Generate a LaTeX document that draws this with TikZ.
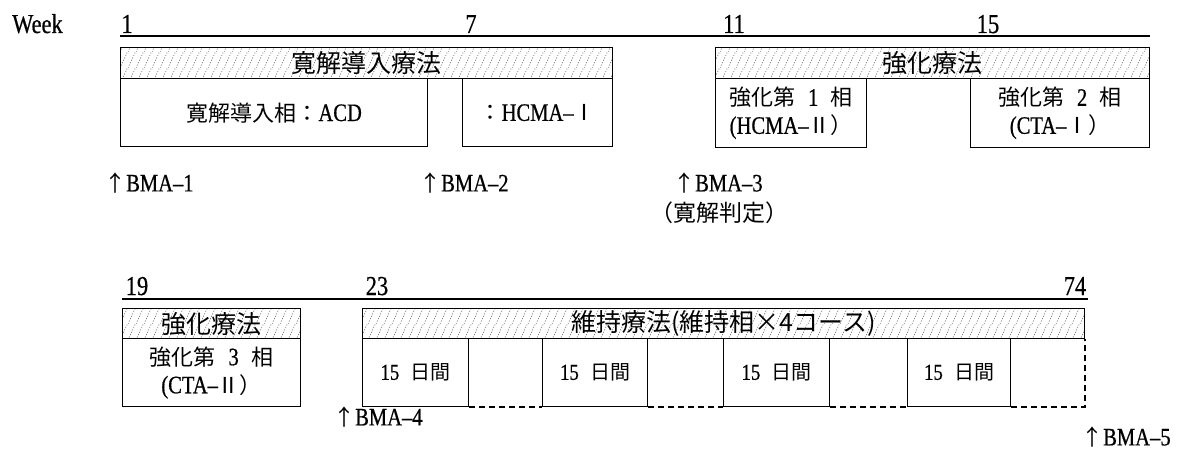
\documentclass[tikz,border=0pt]{standalone}
\usepackage{fontspec}
\setmainfont{Liberation Serif}[Scale=1.14, FakeStretch=0.82, FakeBold=0.6]
\newfontfamily\cjk{Noto Sans CJK JP}
\usetikzlibrary{patterns.meta}
\tikzdeclarepattern{
  name=dhatch, type=uncolored,
  bottom left={(0pt,0pt)}, top right={(8pt,16pt)},
  tile size={(8pt,16pt)},
  code={\draw[line width=0.7pt, dash pattern=on 1.2pt off 1.6pt] (0pt,0pt) -- (8pt,16pt);}
}
\tikzset{
  band/.style={draw, line width=1.3pt, pattern=dhatch, pattern color=black!55, inner sep=0pt, anchor=north west, font=\fontsize{25}{28}\selectfont\cjk},
  phase/.style={draw, line width=1.3pt, inner sep=0pt, anchor=north west, align=center, font=\fontsize{22}{28}\selectfont},
  day/.style={phase, font=\fontsize{20}{24}\selectfont},
  lbl/.style={font=\fontsize{22}{26}\selectfont, inner sep=0pt},
  tick/.style={font=\fontsize{24}{26}\selectfont, anchor=base, inner sep=0pt},
  tl/.style={line width=1.8pt},
  gap/.style={line width=1.8pt, dash pattern=on 6pt off 4pt}
}
\begin{document}
\begin{tikzpicture}[x=1pt,y=-1pt]
\useasboundingbox (0,0) rectangle (1179,452);
% ---------- top row ----------
\node[tick, anchor=base west] (week) at (12,33) {Week};
\coordinate (t1a) at (120,36);
\coordinate (t1b) at (1150,36);
\draw[tl] (t1a) -- (t1b);
\node[tick] (w1) at (127,33) {1};
\node[tick] (w7) at (471,33) {7};
\node[tick] (w11) at (734,33) {11};
\node[tick] (w15) at (988,33) {15};

\node[band, minimum width=492pt, minimum height=31pt] (b1) at (120,47) {寛解導入療法};
\node[phase, minimum width=307pt, minimum height=68pt] (acd) at (120,78) {{\cjk 寛解導入相：}ACD};
\node[phase, minimum width=150pt, minimum height=68pt] (hc1) at (462,78) {{\cjk ：}HCMA--{\cjk Ⅰ}};

\node[band, minimum width=434pt, minimum height=31pt] (b2) at (715,47) {強化療法};
\node[phase, minimum width=151pt, minimum height=69pt] (p1) at (715,78) {{\cjk 強化第}\enspace1\enspace{\cjk 相}\\(HCMA--{\cjk Ⅱ）}};
\node[phase, minimum width=179pt, minimum height=69pt] (p2) at (970,78) {{\cjk 強化第}\enspace2\enspace{\cjk 相}\\(CTA--{\cjk Ⅰ）}};

\node[lbl, anchor=west] (bma1) at (104,183) {{\cjk ↑}BMA--1};
\node[lbl, anchor=west] (bma2) at (419,183) {{\cjk ↑}BMA--2};
\node[lbl, anchor=west] (bma3) at (673,183) {{\cjk ↑}BMA--3};
\node[lbl, font=\fontsize{23}{26}\selectfont\cjk] (judge) at (719,213) {（寛解判定）};

% ---------- bottom row ----------
\coordinate (t2a) at (122,299);
\coordinate (t2b) at (1088,299);
\draw[tl] (t2a) -- (t2b);
\node[tick] (w19) at (137,295) {19};
\node[tick] (w23) at (377,295) {23};
\node[tick] (w74) at (1075,295) {74};

\node[band, minimum width=178pt, minimum height=30pt] (b3) at (122,308) {強化療法};
\node[phase, minimum width=178pt, minimum height=68pt] (p3) at (122,338) {{\cjk 強化第}\enspace3\enspace{\cjk 相}\\(CTA--{\cjk Ⅱ）}};

\node[band, minimum width=722pt, minimum height=30pt] (b4) at (362,308) {維持療法(維持相×4コース)};
\node[day, minimum width=106pt, minimum height=68pt] (d1) at (362,338) {15\enspace{\cjk 日間}};
\node[day, minimum width=105pt, minimum height=68pt] (d2) at (542,338) {15\enspace{\cjk 日間}};
\node[day, minimum width=106pt, minimum height=68pt] (d3) at (723,338) {15\enspace{\cjk 日間}};
\node[day, minimum width=103pt, minimum height=68pt] (d4) at (907,338) {15\enspace{\cjk 日間}};
\coordinate (end) at (b4.south east |- d4.south east);
\draw[gap] (d1.south east) -- (d2.south west);
\draw[gap] (d2.south east) -- (d3.south west);
\draw[gap] (d3.south east) -- (d4.south west);
\draw[gap] (d4.south east) -- (end) -- (b4.south east);

\node[lbl, anchor=west] (bma4) at (333,417) {{\cjk ↑}BMA--4};
\node[lbl, anchor=west] (bma5) at (1081,437) {{\cjk ↑}BMA--5};
\end{tikzpicture}
\end{document}
